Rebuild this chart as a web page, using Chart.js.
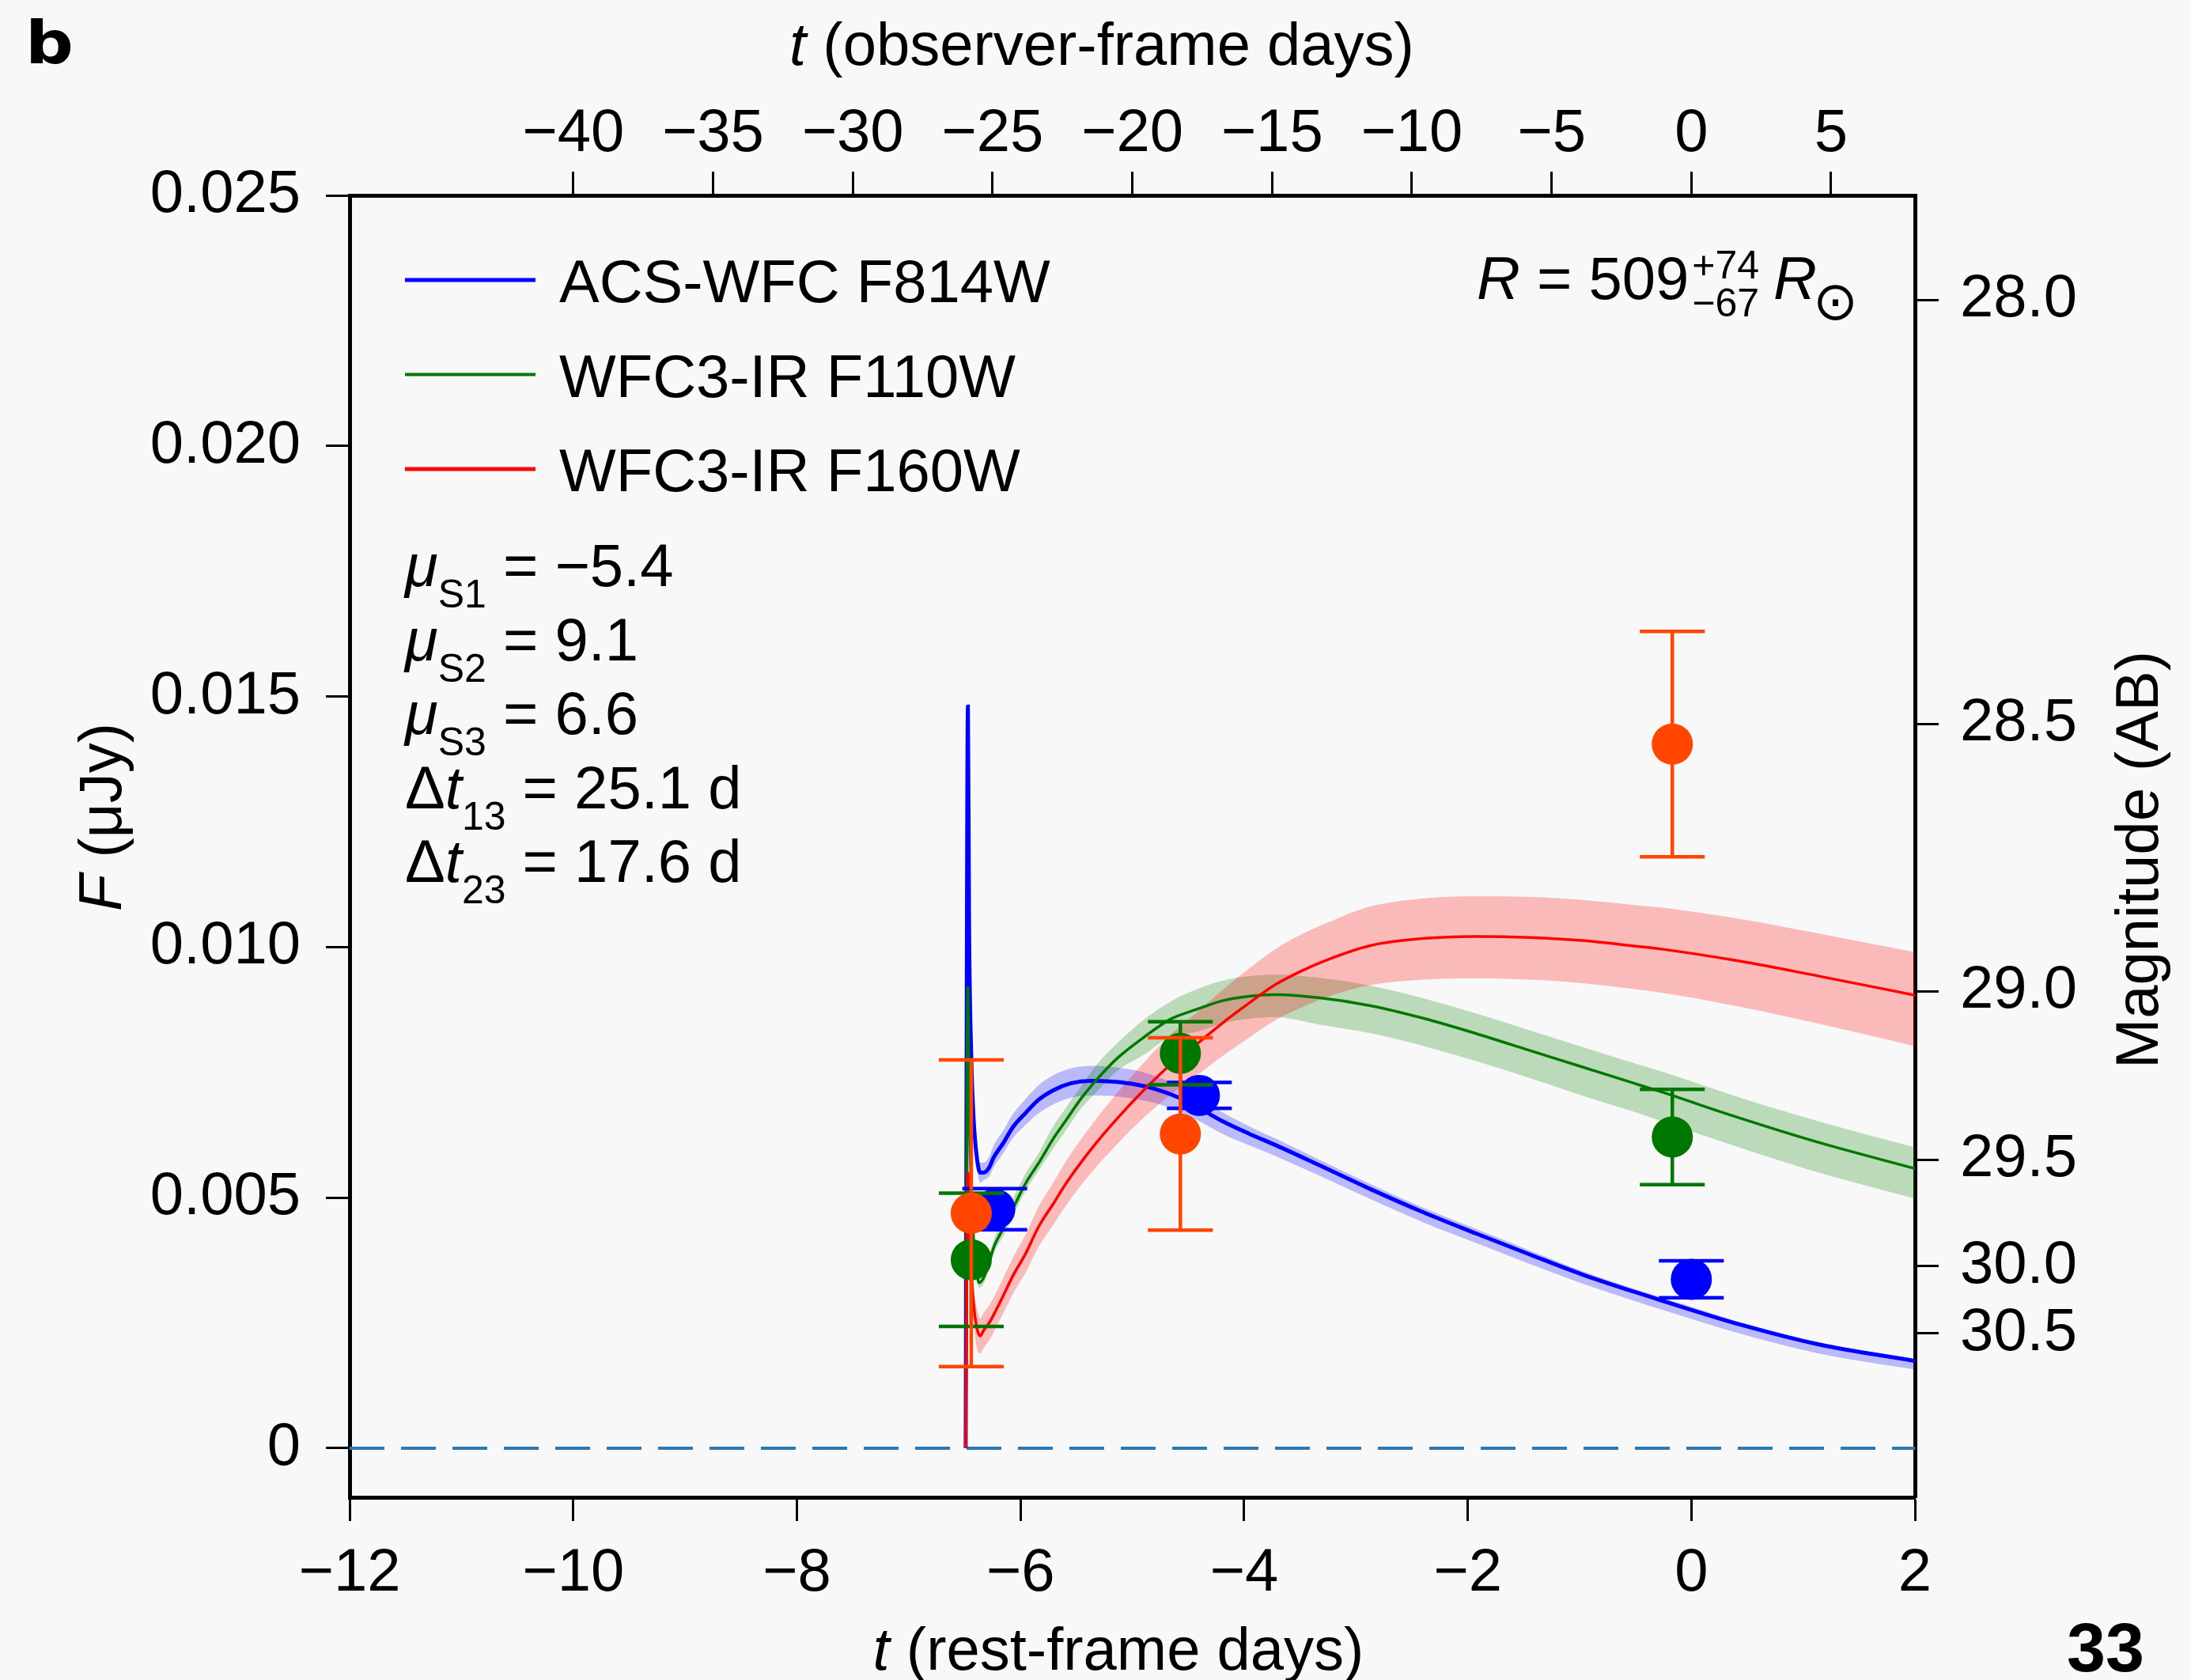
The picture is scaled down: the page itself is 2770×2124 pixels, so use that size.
<!DOCTYPE html>
<html>
<head>
<meta charset="utf-8">
<title>Light curves</title>
<script src="https://cdn.jsdelivr.net/npm/chart.js@4.4.1/dist/chart.umd.min.js"></script>
<style>
  html, body { margin: 0; padding: 0; background: #f8f8f8; }
  canvas { display: block; }
</style>
</head>
<body>
<canvas id="chart" width="2770" height="2124"></canvas>
<script>
(function () {
  'use strict';

  var FONT = "'Liberation Sans', Arimo, Arial, Helvetica, sans-serif";

  // axis ranges: rest-frame days, flux in uJy
  var X_MIN = -12, X_MAX = 2;
  var Y_MIN = -0.00098, Y_MAX = 0.025;
  var ONE_PLUS_Z = 4.0;   // observer-frame days per rest-frame day

  var X_TICKS = [-12, -10, -8, -6, -4, -2, 0, 2];
  var OBS_TICKS = [-40, -35, -30, -25, -20, -15, -10, -5, 0, 5];
  var Y_TICKS = [0, 0.005, 0.010, 0.015, 0.020, 0.025];
  var MAG_TICKS = [28.0, 28.5, 29.0, 29.5, 30.0, 30.5];

  var LABELS = ['ACS-WFC F814W', 'WFC3-IR F110W', 'WFC3-IR F160W'];
  var LINE_COLORS = ['#0000ff', '#007800', '#ff0000'];
  var BAND_COLORS = ['rgba(0, 0, 255, 0.25)', 'rgba(0, 128, 0, 0.25)', 'rgba(255, 0, 0, 0.25)'];
  var POINT_COLORS = ['#0000ff', '#007800', '#ff4500'];

  // model curves (best fit + band)
  var T_F814W = [-6.49, -6.47, -6.46, -6.44, -6.42, -6.39, -6.36, -6.33, -6.28, -6.24, -6.15, -6.07, -5.95, -5.84, -5.70, -5.55, -5.37, -5.20, -5.00, -4.80, -4.60, -4.42, -4.19, -3.95, -3.72, -3.34, -2.87, -2.40, -1.92, -1.45, -0.98, -0.51, -0.27, 0.00, 0.43, 1.14, 2.00];
  var F_F814W = [0, 0.0148, 0.0105, 0.0078, 0.0066, 0.0058, 0.0055, 0.0055, 0.0056, 0.0058, 0.0061, 0.0064, 0.0067, 0.00695, 0.00715, 0.00728, 0.00733, 0.00732, 0.00727, 0.00717, 0.00701, 0.00681, 0.00652, 0.00627, 0.00605, 0.00566, 0.00517, 0.00471, 0.00428, 0.00387, 0.00347, 0.00312, 0.00295, 0.00276, 0.00247, 0.00207, 0.00174];
  var HI_F814W = [0, 0.0149, 0.0107, 0.0080, 0.0068, 0.0060, 0.0057, 0.0057, 0.00582, 0.00604, 0.00635, 0.00666, 0.00698, 0.00724, 0.00745, 0.00758, 0.00763, 0.00761, 0.00755, 0.00743, 0.00725, 0.00702, 0.00670, 0.00642, 0.00618, 0.00577, 0.00527, 0.00480, 0.00437, 0.00395, 0.00354, 0.00318, 0.00301, 0.00282, 0.00252, 0.00211, 0.00178];
  var LO_F814W = [0, 0.0147, 0.0103, 0.0076, 0.0064, 0.0056, 0.0053, 0.00535, 0.00542, 0.0056, 0.0059, 0.00618, 0.00646, 0.00668, 0.00687, 0.00699, 0.00704, 0.00703, 0.00698, 0.00689, 0.00674, 0.00655, 0.00627, 0.00604, 0.00583, 0.00545, 0.00497, 0.00451, 0.00409, 0.00368, 0.00329, 0.00294, 0.00277, 0.00258, 0.00229, 0.00189, 0.00157];

  var T_F110W = [-6.49, -6.47, -6.46, -6.44, -6.42, -6.39, -6.37, -6.33, -6.28, -6.24, -6.15, -6.07, -5.95, -5.84, -5.70, -5.60, -5.45, -5.30, -5.13, -4.89, -4.66, -4.42, -4.19, -3.95, -3.72, -3.34, -2.87, -2.40, -1.92, -1.45, -0.98, -0.51, -0.27, 0.43, 1.14, 2.00];
  var F_F110W = [0, 0.0092, 0.0070, 0.0052, 0.0042, 0.0035, 0.0033, 0.0034, 0.0037, 0.0040, 0.0044, 0.00477, 0.0053, 0.00568, 0.0062, 0.00652, 0.0070, 0.0074, 0.00779, 0.00821, 0.00856, 0.00876, 0.00893, 0.00902, 0.00905, 0.00899, 0.00883, 0.00858, 0.00827, 0.00794, 0.00761, 0.00728, 0.00711, 0.00659, 0.0061, 0.00558];
  var HI_F110W = [0, 0.0093, 0.0071, 0.0053, 0.0043, 0.0036, 0.0034, 0.00355, 0.00385, 0.00415, 0.0046, 0.00497, 0.0055, 0.00588, 0.00645, 0.00677, 0.00725, 0.0077, 0.00809, 0.00856, 0.00891, 0.00916, 0.00933, 0.00942, 0.00945, 0.00939, 0.00923, 0.00898, 0.00867, 0.00834, 0.00801, 0.00768, 0.00752, 0.0070, 0.00652, 0.0060];
  var LO_F110W = [0, 0.0091, 0.0069, 0.0051, 0.0041, 0.0034, 0.0032, 0.00328, 0.00358, 0.00388, 0.00425, 0.00462, 0.00515, 0.00553, 0.0060, 0.00632, 0.0068, 0.00715, 0.00754, 0.00786, 0.00821, 0.00831, 0.00848, 0.00857, 0.0086, 0.00846, 0.00828, 0.00803, 0.00772, 0.00739, 0.00704, 0.00671, 0.00653, 0.0060, 0.0055, 0.00498];

  var T_F160W = [-6.49, -6.47, -6.45, -6.42, -6.39, -6.36, -6.33, -6.28, -6.24, -6.15, -6.07, -5.95, -5.84, -5.70, -5.60, -5.37, -5.13, -4.89, -4.66, -4.42, -4.19, -3.95, -3.72, -3.48, -3.24, -2.87, -2.40, -1.92, -1.45, -0.98, -0.51, -0.27, 0.43, 1.14, 2.00];
  var F_F160W = [0, 0.0055, 0.0040, 0.0029, 0.0024, 0.00224, 0.00235, 0.0025, 0.00266, 0.00306, 0.00343, 0.0039, 0.00441, 0.0049, 0.00526, 0.00596, 0.00659, 0.00716, 0.00765, 0.00807, 0.00849, 0.00889, 0.00925, 0.00953, 0.00976, 0.01003, 0.01017, 0.01021, 0.01019, 0.01013, 0.01002, 0.00996, 0.00972, 0.00942, 0.00904];
  var HI_F160W = [0, 0.0056, 0.0042, 0.0032, 0.0028, 0.00259, 0.0027, 0.00285, 0.00301, 0.00341, 0.00379, 0.00428, 0.00481, 0.00532, 0.0057, 0.00643, 0.0071, 0.00771, 0.00825, 0.0087, 0.00915, 0.00958, 0.00996, 0.01026, 0.0105, 0.01081, 0.01097, 0.01101, 0.0110, 0.01094, 0.01084, 0.01079, 0.01056, 0.01027, 0.0099];
  var LO_F160W = [0, 0.0054, 0.0038, 0.0026, 0.0020, 0.00189, 0.0020, 0.00215, 0.00231, 0.00271, 0.00307, 0.00352, 0.00401, 0.00448, 0.00482, 0.00549, 0.00608, 0.00661, 0.00705, 0.00744, 0.00783, 0.0082, 0.00854, 0.0088, 0.00902, 0.00924, 0.00935, 0.00938, 0.00935, 0.00928, 0.00916, 0.00909, 0.00881, 0.00847, 0.00802];

  // photometry with 1-sigma errors
  var OBS_T_F814W = [-6.23, -4.40, 0.00];
  var OBS_F_F814W = [0.00477, 0.00704, 0.00337];
  var ERR_F814W = [0.00041, 0.00026, 0.00037];

  var OBS_T_F110W = [-6.44, -4.57, -0.17];
  var OBS_F_F110W = [0.00376, 0.00788, 0.00621];
  var ERR_F110W = [0.00133, 0.00063, 0.00095];

  var OBS_T_F160W = [-6.44, -4.57, -0.17];
  var OBS_F_F160W = [0.00469, 0.00627, 0.01405];
  var ERR_F160W = [0.00306, 0.00192, 0.00225];

  // fit parameters
  var MU_SUBS = ['S1', 'S2', 'S3'];
  var MU_VALUES = [-5.4, 9.1, 6.6];
  var DT_SUBS = ['13', '23'];
  var DT_VALUES = [25.1, 17.6];
  var R_VALUE = 509, R_PLUS = 74, R_MINUS = 67;

  function pts(xs, ys) {
    return xs.map(function (x, i) { return { x: x, y: ys[i] }; });
  }
  function fmtSigned(v) {
    return v < 0 ? '\u2212' + Math.abs(v) : String(v);
  }
  function magToFlux(m) {
    return Math.pow(10, (23.9 - m) / 2.5);
  }

  function bandSets(t, hi, lo, color, order) {
    return [
      { data: pts(t, hi), borderWidth: 0, borderColor: 'rgba(0,0,0,0)', pointRadius: 0, fill: false, cubicInterpolationMode: 'monotone', order: order },
      { data: pts(t, lo), borderWidth: 0, borderColor: 'rgba(0,0,0,0)', pointRadius: 0, fill: '-1', backgroundColor: color, cubicInterpolationMode: 'monotone', order: order }
    ];
  }
  function modelSet(t, f, color, width, order) {
    return { data: pts(t, f), borderColor: color, borderWidth: width, pointRadius: 0, fill: false, cubicInterpolationMode: 'monotone', order: order };
  }
  function obsSet(t, f, err, color, order) {
    return { data: pts(t, f), errors: err, showLine: false, pointRadius: 26, pointBorderWidth: 0,
      pointBackgroundColor: color, pointBorderColor: color, order: order };
  }

  var datasets = []
    .concat(bandSets(T_F814W, HI_F814W, LO_F814W, BAND_COLORS[0], 9))
    .concat(bandSets(T_F110W, HI_F110W, LO_F110W, BAND_COLORS[1], 8))
    .concat(bandSets(T_F160W, HI_F160W, LO_F160W, BAND_COLORS[2], 7))
    .concat([
      modelSet(T_F814W, F_F814W, LINE_COLORS[0], 5, 5),
      modelSet(T_F110W, F_F110W, LINE_COLORS[1], 3.5, 4),
      modelSet(T_F160W, F_F160W, LINE_COLORS[2], 3.5, 3),
      { data: pts([X_MIN, X_MAX], [0, 0]), borderColor: '#2a78b4', borderWidth: 4, borderDash: [44, 21], pointRadius: 0, fill: false, order: 20 },
      obsSet(OBS_T_F814W, OBS_F_F814W, ERR_F814W, POINT_COLORS[0], 2),
      obsSet(OBS_T_F110W, OBS_F_F110W, ERR_F110W, POINT_COLORS[1], 1),
      obsSet(OBS_T_F160W, OBS_F_F160W, ERR_F160W, POINT_COLORS[2], 0)
    ]);

  // vertical error bars with caps, drawn just under each set of points
  var errorBarPlugin = {
    id: 'errorBars',
    beforeDatasetDraw: function (chart, args) {
      var ds = chart.data.datasets[args.index];
      if (!ds.errors) return;
      var ctx = chart.ctx, yScale = chart.scales.y;
      ctx.save();
      ctx.strokeStyle = ds.pointBackgroundColor;
      ctx.lineWidth = 4.5;
      args.meta.data.forEach(function (pt, i) {
        var v = ds.data[i].y, e = ds.errors[i];
        var yTop = yScale.getPixelForValue(v + e);
        var yBot = yScale.getPixelForValue(v - e);
        ctx.beginPath();
        ctx.moveTo(pt.x, yTop); ctx.lineTo(pt.x, yBot);
        ctx.moveTo(pt.x - 41, yTop); ctx.lineTo(pt.x + 41, yTop);
        ctx.moveTo(pt.x - 41, yBot); ctx.lineTo(pt.x + 41, yBot);
        ctx.stroke();
      });
      ctx.restore();
    }
  };

  // text runs with mixed fonts
  function run(text, font, dy) { return { text: text, font: font, dy: dy || 0 }; }
  function reg(s) { return run(s, '76px ' + FONT); }
  function ital(s) { return run(s, 'italic 76px ' + FONT); }
  function sub(s) { return run(s, '50px ' + FONT, 27); }

  function runsWidth(ctx, runs) {
    var w = 0;
    runs.forEach(function (r) { ctx.font = r.font; w += ctx.measureText(r.text).width; });
    return w;
  }
  function drawRuns(ctx, runs, x, y) {
    runs.forEach(function (r) {
      ctx.font = r.font;
      ctx.fillText(r.text, x, y + r.dy);
      x += ctx.measureText(r.text).width;
    });
    return x;
  }
  function centered(ctx, runs, cx, y) {
    drawRuns(ctx, runs, cx - runsWidth(ctx, runs) / 2, y);
  }
  function vertical(ctx, runs, x, cy) {
    var w = runsWidth(ctx, runs);
    ctx.save();
    ctx.translate(x, cy);
    ctx.rotate(-Math.PI / 2);
    drawRuns(ctx, runs, -w / 2, 0);
    ctx.restore();
  }

  var textPlugin = {
    id: 'panelText',
    afterDraw: function (chart) {
      var ctx = chart.ctx;
      ctx.save();
      ctx.fillStyle = '#000';
      ctx.textAlign = 'left';
      ctx.textBaseline = 'alphabetic';

      // panel letter (heavy, wide) and page number
      ctx.save();
      ctx.translate(32, 80);
      ctx.scale(1.15, 1);
      ctx.font = "bold 74px 'DejaVu Sans', " + FONT;
      ctx.fillText('b', 0, 0);
      ctx.restore();
      ctx.font = 'bold 88px ' + FONT;
      ctx.fillText('33', 2613, 2113);

      // axis titles
      centered(ctx, [ital('t'), reg(' (observer-frame days)')], 1393, 82);
      centered(ctx, [ital('t'), reg(' (rest-frame days)')], 1414, 2111);
      vertical(ctx, [ital('F'), reg(' (\u03bcJy)')], 153, 1033);
      vertical(ctx, [reg('Magnitude (AB)')], 2728, 1087);

      // legend
      LABELS.forEach(function (label, i) {
        var y = 354 + i * 119.5;
        ctx.strokeStyle = LINE_COLORS[i];
        ctx.lineWidth = i === 1 ? 4 : 5;
        ctx.beginPath();
        ctx.moveTo(512, y);
        ctx.lineTo(677, y);
        ctx.stroke();
        ctx.font = '76px ' + FONT;
        ctx.fillText(label, 707, y + 28);
      });

      // fit parameters
      var rows = [];
      MU_SUBS.forEach(function (s, i) {
        rows.push([ital('\u03bc'), sub(s), reg(' = ' + fmtSigned(MU_VALUES[i]))]);
      });
      DT_SUBS.forEach(function (s, i) {
        rows.push([reg('\u0394'), ital('t'), sub(s), reg(' = ' + DT_VALUES[i].toFixed(1) + ' d')]);
      });
      rows.forEach(function (runs, i) { drawRuns(ctx, runs, 512, 741 + i * 93.5); });

      // radius
      var x = drawRuns(ctx, [ital('R'), reg(' = ' + R_VALUE)], 1867, 378) + 4;
      ctx.font = '50px ' + FONT;
      var up = '+' + R_PLUS, down = '\u2212' + R_MINUS;
      ctx.fillText(up, x, 352);
      ctx.fillText(down, x, 400);
      x += Math.max(ctx.measureText(up).width, ctx.measureText(down).width) + 18;
      x = drawRuns(ctx, [ital('R')], x, 378);
      ctx.font = "68px 'DejaVu Sans'";
      ctx.textBaseline = 'middle';
      ctx.fillText('\u2299', x - 5, 386);

      ctx.restore();
    }
  };

  var tickFont = { family: FONT, size: 76 };
  var gridStyle = { drawOnChartArea: false, drawTicks: true, tickLength: 30, tickWidth: 3, tickColor: '#000' };
  var borderStyle = { display: true, color: '#000', width: 5 };

  new Chart(document.getElementById('chart').getContext('2d'), {
    type: 'line',
    data: { datasets: datasets },
    options: {
      responsive: false,
      animation: false,
      devicePixelRatio: 1,
      events: [],
      layout: { padding: 0 },
      plugins: { legend: { display: false }, tooltip: { enabled: false } },
      scales: {
        x: {
          type: 'linear', axis: 'x', position: 'bottom', min: X_MIN, max: X_MAX,
          afterBuildTicks: function (axis) { axis.ticks = X_TICKS.map(function (v) { return { value: v }; }); },
          afterFit: function (axis) { axis.height = 231; },
          grid: gridStyle, border: borderStyle,
          ticks: { color: '#000', font: tickFont, padding: 21, maxRotation: 0, autoSkip: false, callback: fmtSigned }
        },
        xObs: {
          type: 'linear', axis: 'x', position: 'top', min: X_MIN * ONE_PLUS_Z, max: X_MAX * ONE_PLUS_Z,
          afterBuildTicks: function (axis) { axis.ticks = OBS_TICKS.map(function (v) { return { value: v }; }); },
          afterFit: function (axis) { axis.height = 247; },
          grid: gridStyle, border: borderStyle,
          ticks: { color: '#000', font: tickFont, padding: 1, maxRotation: 0, autoSkip: false, callback: fmtSigned }
        },
        y: {
          type: 'linear', axis: 'y', position: 'left', min: Y_MIN, max: Y_MAX,
          afterBuildTicks: function (axis) { axis.ticks = Y_TICKS.map(function (v) { return { value: v }; }); },
          afterFit: function (axis) { axis.width = 442; },
          grid: gridStyle, border: borderStyle,
          ticks: { color: '#000', font: tickFont, padding: 32, autoSkip: false,
            callback: function (v) { return v === 0 ? '0' : v.toFixed(3); } }
        },
        yMag: {
          type: 'linear', axis: 'y', position: 'right', min: Y_MIN, max: Y_MAX,
          afterBuildTicks: function (axis) { axis.ticks = MAG_TICKS.map(function (m) { return { value: magToFlux(m) }; }); },
          afterFit: function (axis) { axis.width = 349; },
          grid: gridStyle, border: borderStyle,
          ticks: { color: '#000', font: tickFont, padding: 27, autoSkip: false,
            callback: function (v, i) { return MAG_TICKS[i].toFixed(1); } }
        }
      }
    },
    plugins: [errorBarPlugin, textPlugin]
  });
})();
</script>
</body>
</html>
